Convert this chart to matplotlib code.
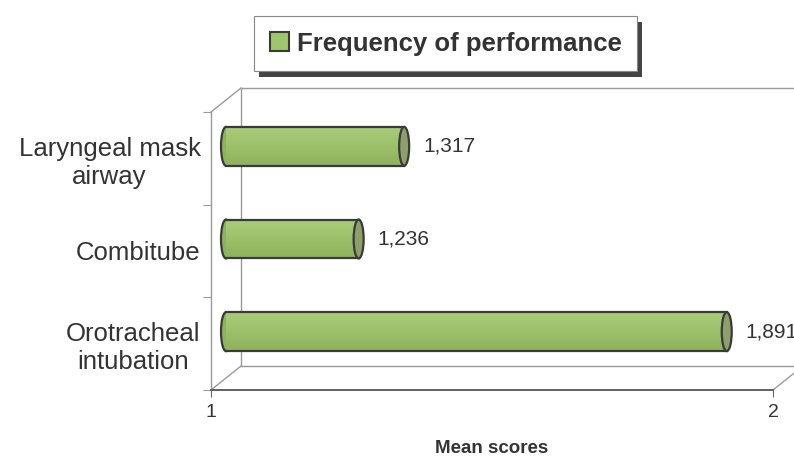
import matplotlib
matplotlib.use("Agg")
import matplotlib.pyplot as plt
from matplotlib.patches import Rectangle, Ellipse, Patch
from matplotlib.transforms import ScaledTranslation
import numpy as np

# Data
categories = ["Orotracheal\nintubation", "Combitube", "Laryngeal mask\nairway"]
mean_scores = [1.891, 1.236, 1.317]
series_name = "Frequency of performance"
x_ticks = [1, 2]
axis_title = "Mean scores"

plt.rcParams["font.family"] = ["Liberation Sans", "DejaVu Sans"]
TXT = "#333333"
GREEN_TOP = np.array([0.66, 0.80, 0.47])
GREEN_BOT = np.array([0.56, 0.70, 0.36])
FACE = "#8f9f6c"
EDGE = "#3a3a3a"
WALL = "#9a9a9a"

W, H = 794, 459
fig = plt.figure(figsize=(W / 100, H / 100), dpi=100)
ax = fig.add_axes([211 / W, 69 / H, 562 / W, 278 / H])
ax.set_xlim(1, 2)
ax.set_ylim(0, 3)
ax.patch.set_visible(False)

# depth offsets for the pseudo-3D box (in pixels)
def depth(dx, dy):
    return ax.transData + ScaledTranslation(dx / 100, dy / 100, fig.dpi_scale_trans)

dx_back, dy_back = 30, 24
back = depth(dx_back, dy_back)
mid = depth(dx_back / 2, dy_back / 2)

# spines = front edges of the box
for s in ("top", "right"):
    ax.spines[s].set_visible(False)
ax.spines["left"].set_color(WALL)
ax.spines["left"].set_linewidth(1.0)
ax.spines["bottom"].set_color("#555555")
ax.spines["bottom"].set_linewidth(1.3)

ax.set_xticks(x_ticks)
ax.set_xticklabels([str(t) for t in x_ticks])
ax.tick_params(axis="x", length=5, color="#666666", labelsize=14, labelcolor=TXT, pad=5)
ax.set_yticks(np.arange(len(categories) + 1))
ax.set_yticklabels([])
ax.tick_params(axis="y", which="major", length=6, color=WALL)
ax.set_yticks(np.arange(len(categories)) + 0.5, minor=True)
ax.set_yticklabels(categories, minor=True, fontsize=18.5, color=TXT, ha="right",
                   multialignment="center")
ax.tick_params(axis="y", which="minor", length=0, pad=7.5)
ax.set_xlabel(axis_title, fontsize=13.5, fontweight="bold", color=TXT, labelpad=14)

# back wall and floor
line_kw = dict(color=WALL, lw=1.0, clip_on=False)
ax.plot([1, 1], [0, 3], transform=back, **line_kw)
ax.plot([1, 2.1], [3, 3], transform=back, **line_kw)
ax.plot([1, 2.1], [0, 0], transform=back, **line_kw)
inv = ax.transData.inverted()
for (xa, ya) in [(1, 0), (1, 3), (2, 0)]:
    p0 = ax.transData.transform((xa, ya))
    p1 = p0 + np.array([dx_back, dy_back])
    q0, q1 = inv.transform(p0), inv.transform(p1)
    ax.plot([q0[0], q1[0]], [q0[1], q1[1]], **line_kw)

# cylinders
bar_h = 0.42
cap_w = 10 / 562
n_strips = 24
for i, v in enumerate(mean_scores):
    yc = i + 0.5
    y0 = yc - bar_h / 2
    ax.add_patch(Ellipse((1, yc), cap_w, bar_h, facecolor=GREEN_BOT, edgecolor=EDGE,
                         lw=1.6, transform=mid, clip_on=False, zorder=3))
    for k in range(n_strips):
        t = k / (n_strips - 1)
        c = GREEN_BOT * (1 - t) + GREEN_TOP * t
        ax.add_patch(Rectangle((1, y0 + k * bar_h / n_strips), v - 1, bar_h / n_strips + 0.002,
                               facecolor=c, edgecolor="none", transform=mid,
                               clip_on=False, zorder=4))
    ax.plot([1, v], [y0, y0], color=EDGE, lw=1.6, transform=mid, clip_on=False, zorder=5)
    ax.plot([1, v], [y0 + bar_h, y0 + bar_h], color=EDGE, lw=1.6, transform=mid,
            clip_on=False, zorder=5)
    ax.add_patch(Ellipse((v, yc), cap_w, bar_h, facecolor=FACE, edgecolor=EDGE,
                         lw=1.6, transform=mid, clip_on=False, zorder=6))
    ax.text(v, yc, f"{v:.3f}".replace(".", ","), fontsize=15, color=TXT, va="center",
            ha="left", transform=depth(dx_back / 2 + 19, dy_back / 2), clip_on=False,
            zorder=7)

# legend with offset shadow
handle = Patch(facecolor=(0.62, 0.78, 0.42), edgecolor=EDGE, lw=1.5)
leg = fig.legend([handle], [series_name], loc="center",
                 bbox_to_anchor=(445.5 / W, 1 - 43.5 / H),
                 prop=dict(size=18.5, weight="bold"), labelcolor=TXT,
                 handlelength=0.75, handleheight=0.75, handletextpad=0.3,
                 borderpad=0.62, frameon=True, fancybox=False, framealpha=1,
                 edgecolor="#888888")
leg.get_frame().set_linewidth(0.8)
leg.set_zorder(10)
fig.canvas.draw()
bb = leg.get_window_extent()
shadow = Rectangle(((bb.x0 + 5) / W, (bb.y0 - 6) / H), bb.width / W, bb.height / H,
                   transform=fig.transFigure, facecolor="#444444", edgecolor="none",
                   zorder=9)
fig.patches.append(shadow)

fig.savefig("out.png", dpi=100)
